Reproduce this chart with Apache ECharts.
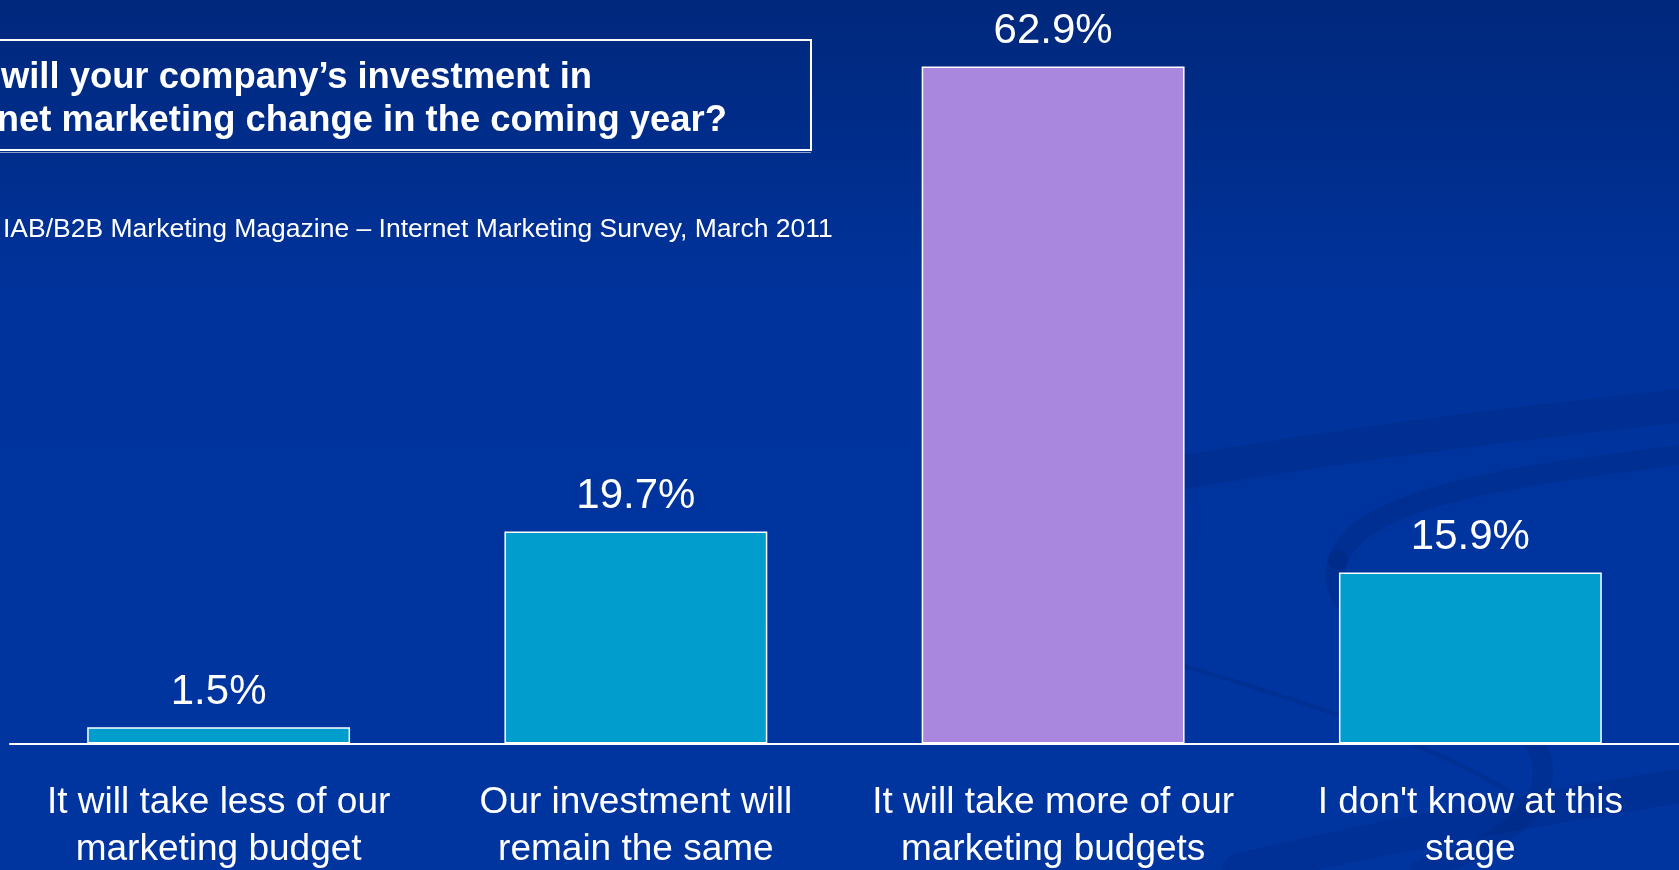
<!DOCTYPE html>
<html>
<head>
<meta charset="utf-8">
<title>Internet marketing investment</title>
<script src="https://cdn.jsdelivr.net/npm/echarts@6/dist/echarts.min.js"></script>
<style>
  html, body { margin: 0; padding: 0; background: #0033a0; }
  #chart { width: 1679px; height: 870px; }
</style>
</head>
<body>
<div id="chart"></div>
<script>
// Survey answers and their shares (%)
const categories = [
  "It will take less of our\nmarketing budget",
  "Our investment will\nremain the same",
  "It will take more of our\nmarketing budgets",
  "I don't know at this\nstage"
];
const shares = [1.5, 19.7, 62.9, 15.9];

const titleLines = [
  "How will your company\u2019s investment in",
  "Internet marketing change in the coming year?"
];
const sourceText = "IAB/B2B Marketing Magazine \u2013 Internet Marketing Survey, March 2011";

const FONT = "'Liberation Sans', Arial, sans-serif";
const TEAL = "#019dcd";
const PURPLE = "#a987df";
const topShare = Math.max(...shares);

const chart = echarts.init(document.getElementById("chart"), null, { renderer: "canvas" });

// faint decorative swirl in the lower right of the slide (cubic segments)
const swirlStroke = "rgba(0, 22, 95, 0.16)";
const swirlSegments = [
  // [x1, y1, cpx1, cpy1, cpx2, cpy2, x2, y2, width]
  [1150, 478, 1350, 442, 1550, 420, 1679, 406, 34],
  [1679, 455, 1500, 478, 1360, 498, 1338, 560, 20],
  [1338, 560, 1318, 622, 1420, 645, 1500, 705, 20],
  [1500, 705, 1580, 765, 1545, 835, 1420, 870, 20],
  [1170, 662, 1300, 700, 1420, 738, 1510, 792, 4],
  [1240, 870, 1400, 832, 1550, 806, 1679, 786, 34]
];
const swirl = swirlSegments.map(s => ({
  type: "bezierCurve",
  silent: true,
  z: -10,
  shape: { x1: s[0], y1: s[1], cpx1: s[2], cpy1: s[3], cpx2: s[4], cpy2: s[5], x2: s[6], y2: s[7] },
  style: { fill: null, stroke: swirlStroke, lineWidth: s[8], lineCap: "round" }
}));

chart.setOption({
  backgroundColor: {
    type: "linear", x: 0, y: 0, x2: 0, y2: 1,
    colorStops: [
      { offset: 0, color: "#00287c" },
      { offset: 0.35, color: "#00339c" },
      { offset: 1, color: "#0035a0" }
    ]
  },
  animation: false,
  grid: {
    left: 10, right: 0, top: 44, bottom: 126.5,
    containLabel: false,
    outerBoundsMode: "none"
  },
  xAxis: {
    type: "category",
    data: categories,
    axisLine: { show: true, lineStyle: { color: "#ffffff", width: 2 } },
    axisTick: { show: false },
    axisLabel: {
      color: "#ffffff",
      fontFamily: FONT,
      fontSize: 37,
      lineHeight: 47,
      margin: 36,
      interval: 0
    }
  },
  yAxis: {
    type: "value",
    min: 0,
    max: 65,
    show: false,
    splitLine: { show: false }
  },
  series: [{
    type: "bar",
    data: shares,
    barWidth: "63%",
    itemStyle: {
      color: p => (p.value === topShare ? PURPLE : TEAL),
      borderColor: "#ffffff",
      borderWidth: 1.5
    },
    label: {
      show: true,
      position: "top",
      distance: 14,
      color: "#ffffff",
      fontFamily: FONT,
      fontSize: 42,
      formatter: p => p.value.toFixed(1) + "%"
    }
  }],
  graphic: [
    ...swirl,
    // title box (its left side runs past the slide edge)
    {
      type: "rect",
      silent: true,
      shape: { x: -20, y: 40, width: 831, height: 110 },
      style: { fill: null, stroke: "#ffffff", lineWidth: 2 }
    },
    {
      type: "line",
      silent: true,
      shape: { x1: -20, y1: 152.5, x2: 811, y2: 152.5 },
      style: { stroke: "rgba(200,210,230,0.7)", lineWidth: 1 }
    },
    {
      type: "text",
      silent: true,
      x: -86, y: 78,
      style: {
        text: titleLines[0], fill: "#ffffff",
        font: "bold 36.4px " + FONT, verticalAlign: "middle"
      }
    },
    {
      type: "text",
      silent: true,
      x: -82, y: 121,
      style: {
        text: titleLines[1], fill: "#ffffff",
        font: "bold 36.4px " + FONT, verticalAlign: "middle"
      }
    },
    {
      type: "text",
      silent: true,
      x: 3, y: 230,
      style: {
        text: sourceText, fill: "#ffffff",
        font: "26.5px " + FONT, verticalAlign: "middle"
      }
    }
  ]
});
</script>
</body>
</html>
